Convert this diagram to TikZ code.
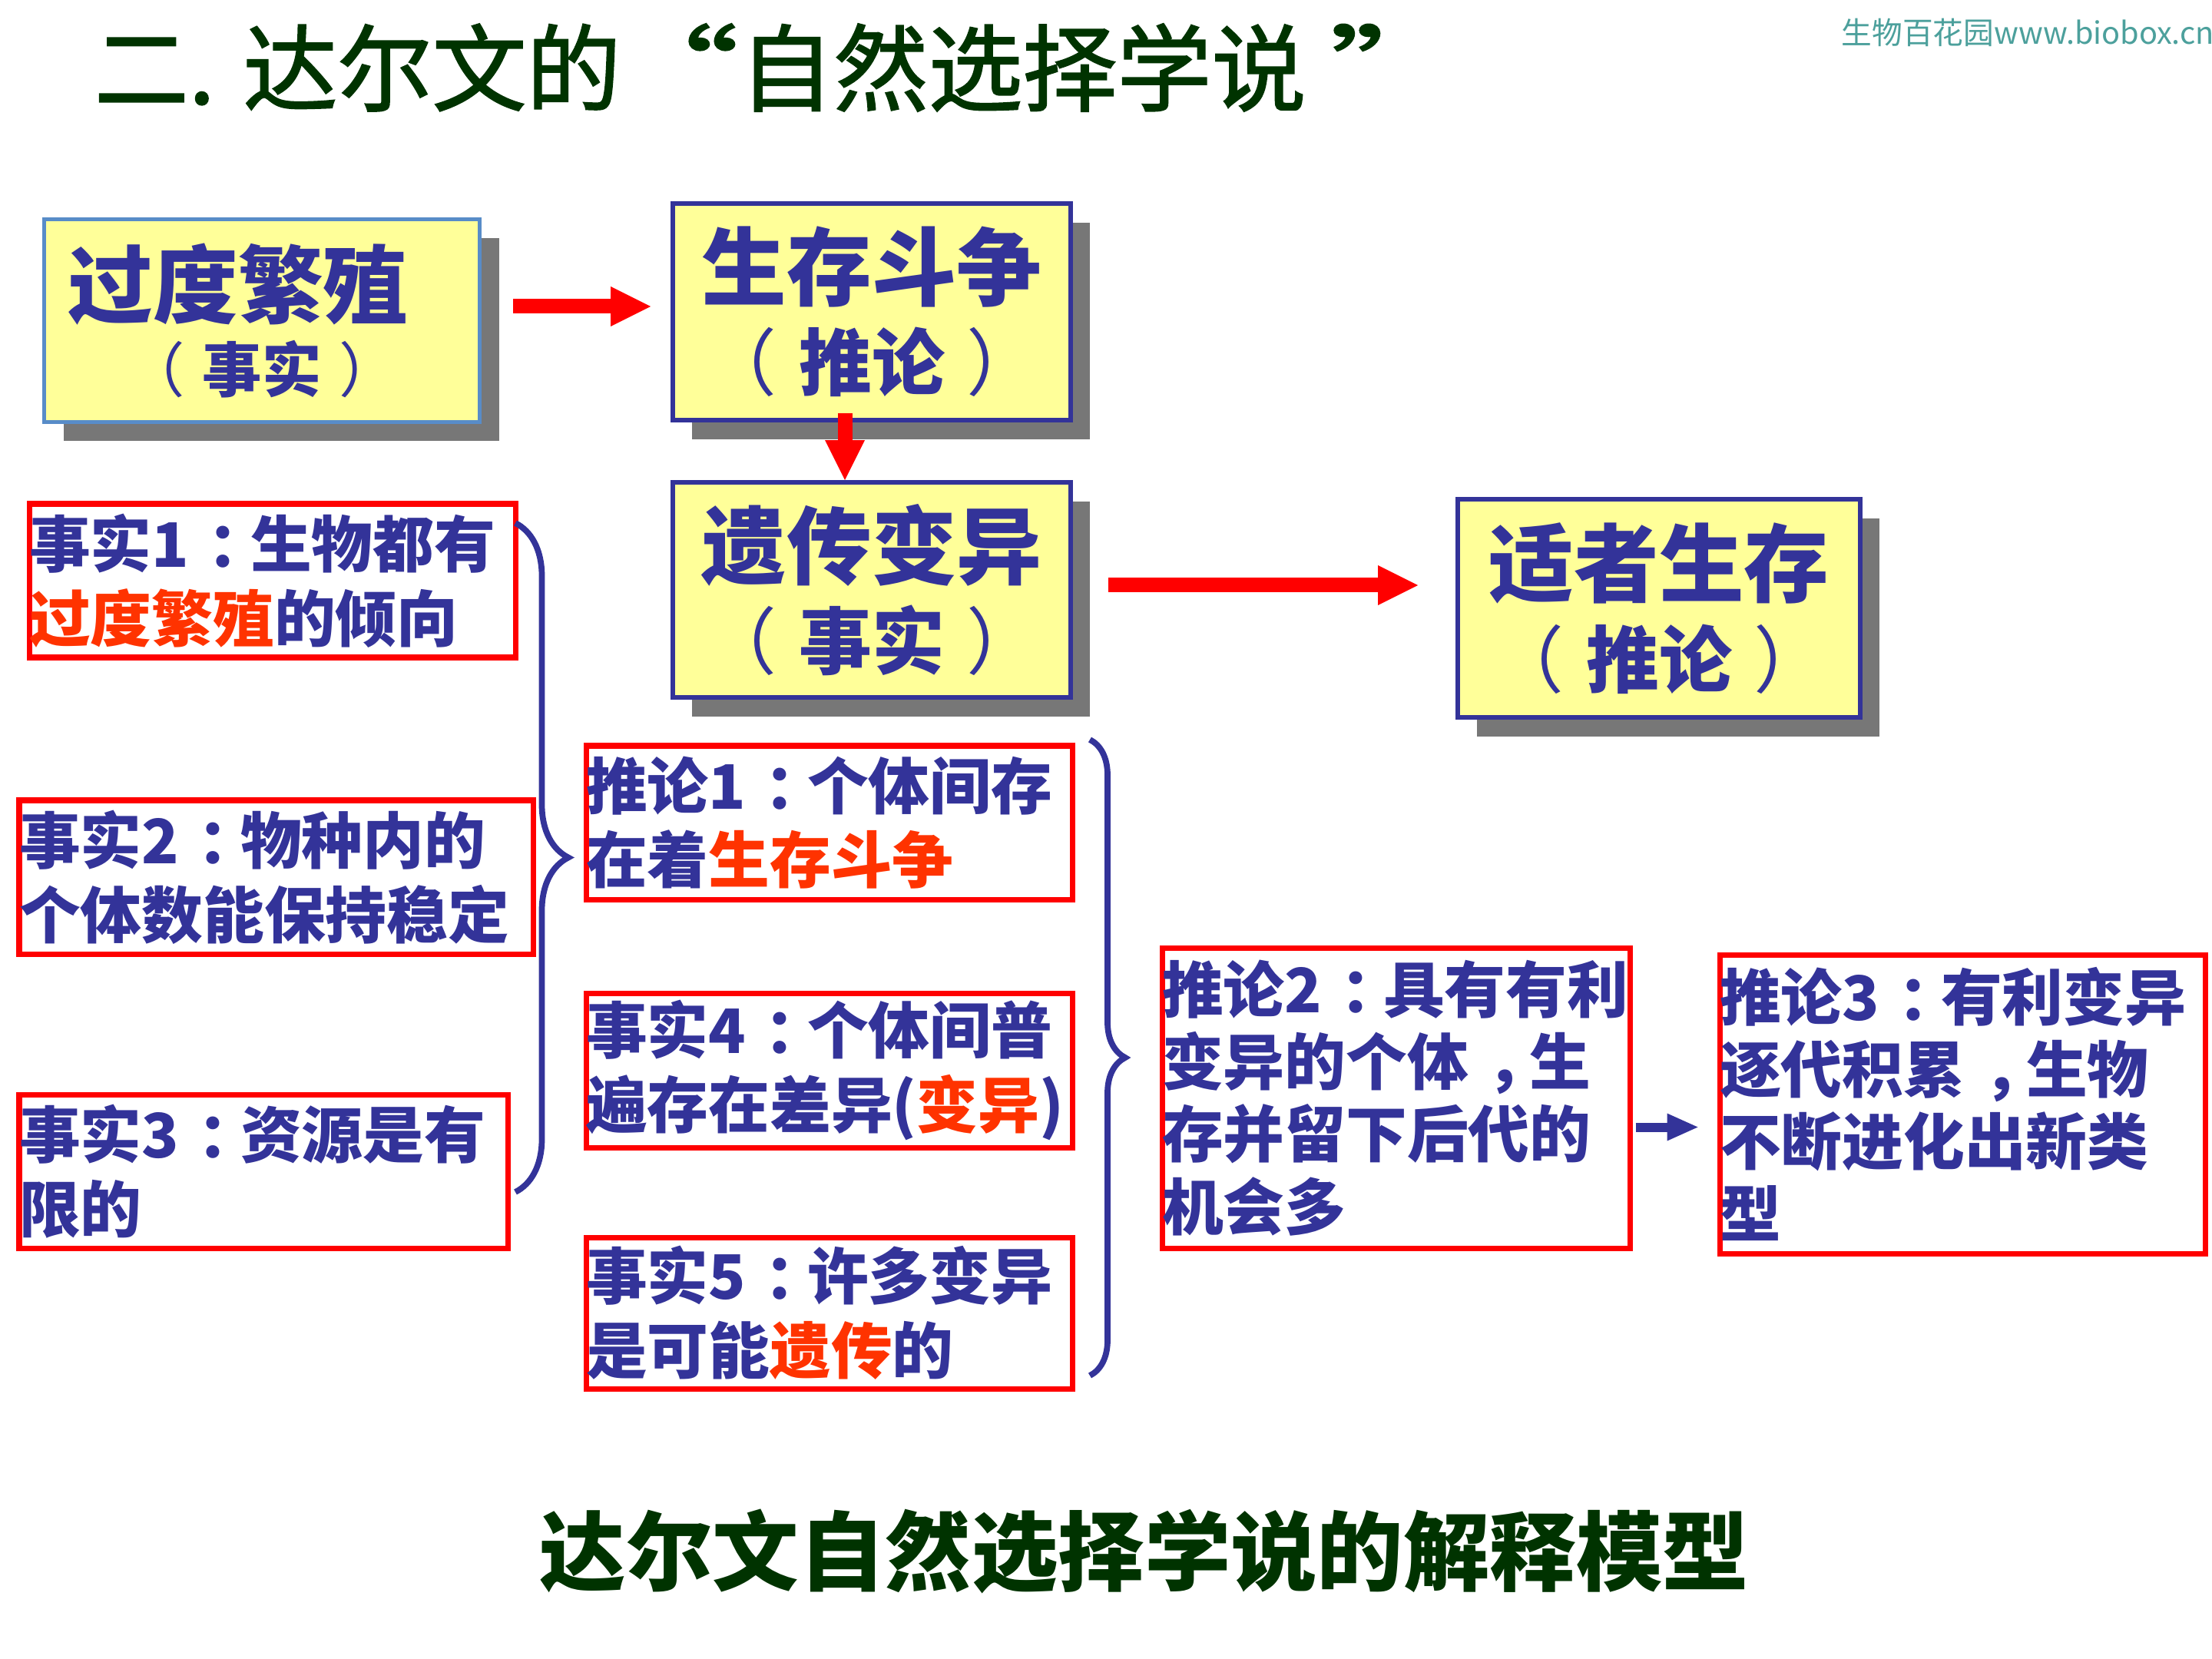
\documentclass[tikz,border=0pt]{standalone}
\usepackage{fontspec}
\setmainfont{Noto Sans CJK SC}
\newfontfamily\titlefont{Noto Sans CJK SC}[FakeBold=1.5]
\usetikzlibrary{arrows.meta, shadows, decorations.pathreplacing}

\definecolor{boxnavy}{RGB}{51,51,153}
\definecolor{boxyellow}{RGB}{255,255,153}
\definecolor{boxblue}{RGB}{88,140,200}
\definecolor{boxred}{RGB}{255,0,0}
\definecolor{arrowred}{RGB}{255,0,0}
\definecolor{wordred}{RGB}{255,51,0}
\definecolor{shadowgray}{RGB}{119,119,119}
\definecolor{titlegreen}{RGB}{0,51,0}
\definecolor{markteal}{RGB}{76,160,156}

\newcommand{\redword}[1]{{\color{wordred}#1}}
\newcommand{\midpunct}[1]{\makebox[1em][l]{\hspace{0.3em}#1}}
\newcommand{\paren}[1]{{\mdseries （}\kern0.3em#1\kern0.3em{\mdseries ）}}
\newcommand{\bigquote}[1]{\scalebox{1.4}[1]{#1}}

\begin{document}
\begin{tikzpicture}[
        yellowbox/.style={rectangle, draw=boxnavy, line width=1.7pt, fill=boxyellow, text=boxnavy, align=center, inner sep=0pt,
            drop shadow={shadow xshift=0.25cm, shadow yshift=-0.25cm, fill=shadowgray, opacity=1},
            font=\bfseries\fontsize{31.5}{33.7}\selectfont},
        factbox/.style={rectangle, draw=boxred, line width=2pt, fill=white, text=boxnavy, anchor=north west, align=left, inner sep=0pt,
            font=\bfseries\fontsize{22.7}{27.5}\selectfont},
        redarrow/.style={draw=arrowred, line width=0.19cm, -{Triangle[width=0.52cm, length=0.52cm, line width=0pt]}},
        navyarrow/.style={draw=boxnavy, line width=0.12cm, -{Triangle[width=0.36cm, length=0.40cm, line width=0pt]}},
        bracket/.style={draw=boxnavy, line width=2.2pt, decorate, decoration={brace, amplitude=#1}}
    ]
        \fill[white] (0,0) rectangle (28.8,-21.6);
        \useasboundingbox (0,0) rectangle (28.8,-21.6);

        \node[anchor=west, inner sep=0pt, text=titlegreen, font=\titlefont\fontsize{35}{40}\selectfont] (title) at (1.22,-0.88)
            {二. 达尔文的\hspace{-0.15em}\bigquote{“}自然选择学说\hspace{0.25em}\bigquote{”}};
        \node[anchor=west, inner sep=0pt, text=markteal, font=\fontsize{11.3}{13}\selectfont] (mark) at (23.97,-0.42) {生物百花园www.biobox.cn};

        \node[yellowbox, draw=boxblue, line width=1.5pt, minimum width=5.67cm, minimum height=2.64cm,
            font=\bfseries\fontsize{31.5}{28}\selectfont] (excess) at (3.41,-4.175) {
            过度繁殖\kern0.62cm\\
            {\fontsize{22}{28}\selectfont \paren{事实}}
        };
        \node[yellowbox, minimum width=5.18cm, minimum height=2.82cm] (struggle) at (11.35,-4.06) {
            生存斗争\\
            {\fontsize{27}{33.7}\selectfont \paren{推论}}
        };
        \node[yellowbox, minimum width=5.18cm, minimum height=2.80cm] (variation) at (11.35,-7.68) {
            遗传变异\\
            {\fontsize{27}{33.7}\selectfont \paren{事实}}
        };
        \node[yellowbox, minimum width=5.24cm, minimum height=2.84cm] (fittest) at (21.60,-7.92) {
            适者生存\\
            {\fontsize{27}{33.7}\selectfont \paren{推论}}
        };

        \node[factbox, text width=6.33cm, minimum height=2.00cm] (fact1) at (0.345,-6.525) {事实1\midpunct{：}生物都有\\\redword{过度繁殖}的倾向};
        \node[factbox, text width=6.69cm, minimum height=2.00cm] (fact2) at (0.215,-10.385) {事实2\midpunct{：}物种内的\\个体数能保持稳定};
        \node[factbox, text width=6.36cm, minimum height=2.00cm] (fact3) at (0.215,-14.215) {事实3\midpunct{：}资源是有\\限的};
        \node[factbox, text width=6.33cm, minimum height=2.00cm] (infer1) at (7.595,-9.675) {推论1\midpunct{：}个体间存\\在着\redword{生存斗争}};
        \node[factbox, text width=6.33cm, minimum height=2.01cm] (fact4) at (7.595,-12.895) {事实4\midpunct{：}个体间普\\遍存在差异(\redword{变异})};
        \node[factbox, text width=6.33cm, minimum height=1.97cm] (fact5) at (7.595,-16.075) {事实5\midpunct{：}许多变异\\是可能\redword{遗传}的};
        \node[factbox, text width=6.09cm, minimum height=3.91cm, font=\bfseries\fontsize{22.7}{26.8}\selectfont] (infer2) at (15.095,-12.305)
            {推论2\midpunct{：}具有有利\\变异的个体\midpunct{，}生\\存并留下后代的\\机会多};
        \node[factbox, text width=6.32cm, minimum height=3.89cm, font=\bfseries\fontsize{22.7}{26.8}\selectfont] (infer3) at (22.355,-12.395)
            {推论3\midpunct{：}有利变异\\逐代积累\midpunct{，}生物\\不断进化出新类\\型};

        \node[text=titlegreen, font=\bfseries\fontsize{32}{36}\selectfont] (caption) at (14.90,-20.20) {达尔文自然选择学说的解释模型};

        \coordinate (a1) at ([xshift=0.41cm, yshift=0.185cm]excess.east);
        \draw[redarrow, shorten >=0.26cm] (a1) -- (a1 -| struggle.west);
        \coordinate (a2) at ([xshift=-0.35cm, yshift=0.12cm]struggle.south);
        \draw[redarrow] (a2) -- (a2 |- variation.north);
        \coordinate (a3) at ([xshift=0.46cm, yshift=0.06cm]variation.east);
        \draw[redarrow, shorten >=0.49cm] (a3) -- (a3 -| fittest.west);
        \coordinate (a4) at ([xshift=0.04cm, yshift=-0.38cm]infer2.east);
        \draw[navyarrow, shorten >=0.25cm] (a4) -- (a4 -| infer3.west);

        \coordinate (leftbtop) at (6.71,-6.81);
        \coordinate (leftbbot) at (6.71,-15.52);
        \draw[bracket=0.69cm] (leftbtop) -- (leftbbot);
        \coordinate (rightbtop) at (14.19,-9.63);
        \coordinate (rightbbot) at (14.19,-17.91);
        \draw[bracket=0.46cm] (rightbtop) -- (rightbbot);
    \end{tikzpicture}
\end{document}
